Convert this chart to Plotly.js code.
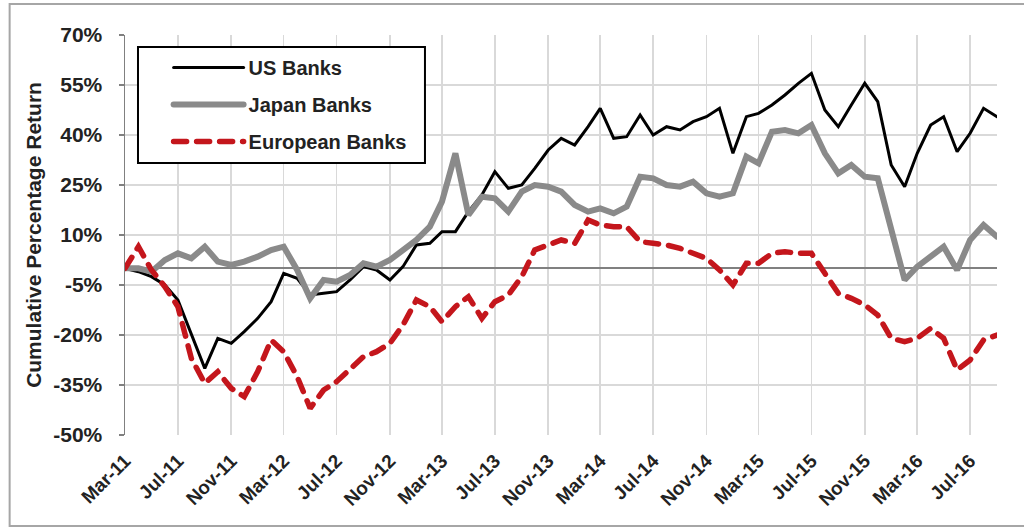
<!DOCTYPE html>
<html>
<head>
<meta charset="utf-8">
<script src="https://cdn.plot.ly/plotly-3.0.1.min.js"></script>
<style>
html,body{margin:0;padding:0;background:#fff;}
#chart{width:1024px;height:528px;}
.scatterlayer .js-line, .legendlines path { stroke-linecap: round; }
</style>
</head>
<body>
<div id="chart"></div>
<script>
const months = [
 '2011-03','2011-04','2011-05','2011-06','2011-07','2011-08','2011-09','2011-10','2011-11','2011-12',
 '2012-01','2012-02','2012-03','2012-04','2012-05','2012-06','2012-07','2012-08','2012-09','2012-10','2012-11','2012-12',
 '2013-01','2013-02','2013-03','2013-04','2013-05','2013-06','2013-07','2013-08','2013-09','2013-10','2013-11','2013-12',
 '2014-01','2014-02','2014-03','2014-04','2014-05','2014-06','2014-07','2014-08','2014-09','2014-10','2014-11','2014-12',
 '2015-01','2015-02','2015-03','2015-04','2015-05','2015-06','2015-07','2015-08','2015-09','2015-10','2015-11','2015-12',
 '2016-01','2016-02','2016-03','2016-04','2016-05','2016-06','2016-07','2016-08','2016-09'
];

const usBanks = [
 0, -1, -2.5, -5, -9.5, -19.5, -30, -21, -22.5, -19,
 -15, -10, -1.5, -3, -8, -7.5, -7, -3.5, 0.5, -0.5,
 -3.5, 0.5, 7, 7.5, 11, 11, 17, 22, 29, 24,
 25, 30, 35.5, 39, 37, 42.5, 48, 39, 39.5, 46,
 40, 42.5, 41.5, 44, 45.5, 48, 34.5, 45.5, 46.5, 49,
 52, 55.5, 58.5, 47.5, 42.5, 49, 55.5, 50, 31, 24.5,
 34.5, 43, 45.5, 35, 40.5, 48, 45.5
];

const japanBanks = [
 0, 0, -1, 2.5, 4.5, 3, 6.5, 2, 1, 2,
 3.5, 5.5, 6.5, -0.5, -9, -3.5, -4, -2, 1.5, 0.5,
 2.5, 5.5, 8.5, 12.5, 20, 34.5, 16, 21.5, 21, 17,
 23, 25, 24.5, 23, 19, 17, 18, 16.5, 18.5, 27.5,
 27, 25, 24.5, 26, 22.5, 21.5, 22.5, 33.5, 31.5, 41,
 41.5, 40.5, 43, 34.5, 28.5, 31, 27.5, 27, 12.5, -3.5,
 0.5, 3.5, 6.5, -0.5, 8.5, 13, 9.5
];

const europeanBanks = [
 0, 6.5, -0.5, -5.5, -11.5, -27, -34.5, -31, -36, -38.5,
 -31, -21.5, -25, -32.5, -42, -36.5, -34, -30, -26.5, -25,
 -22.5, -17, -9.5, -11.5, -16, -11.5, -8.5, -15, -10, -8,
 -2.5, 5.5, 7, 8.5, 7.5, 14.5, 13, 12.5, 12.5, 8,
 7.5, 7, 6, 4.5, 3, -0.5, -5, 1.5, 1.5, 4.5,
 5, 4.5, 4.5, -1.5, -7.5, -9, -11, -14, -21, -22,
 -21, -18, -21, -30.5, -27.5, -21.5, -20
];

const xTickVals = ['2011-03','2011-07','2011-11','2012-03','2012-07','2012-11','2013-03','2013-07','2013-11',
 '2014-03','2014-07','2014-11','2015-03','2015-07','2015-11','2016-03','2016-07'];
const xTickText = ['Mar-11','Jul-11','Nov-11','Mar-12','Jul-12','Nov-12','Mar-13','Jul-13','Nov-13',
 'Mar-14','Jul-14','Nov-14','Mar-15','Jul-15','Nov-15','Mar-16','Jul-16'];
const yTickVals = [-50, -35, -20, -5, 10, 25, 40, 55, 70];
const yTickText = ['-50%','-35%','-20%','-5%','10%','25%','40%','55%','70%'];

const FONT = 'Liberation Sans, Arial, sans-serif';
const TXT = '#222222';

const traces = [
 {x: months, y: usBanks, name: 'US Banks', type: 'scatter', mode: 'lines', legendgroup: 'a',
  line: {color: '#000000', width: 3}},
 {x: months, y: japanBanks, name: 'Japan Banks', type: 'scatter', mode: 'lines', legendgroup: 'b',
  line: {color: '#8a8a8a', width: 6}},
 {x: months, y: europeanBanks, name: 'European Banks', type: 'scatter', mode: 'lines', legendgroup: 'c',
  line: {color: '#c4161c', width: 5.5, dash: '13px,10px'}}
];

const layout = {
 width: 1024, height: 528,
 margin: {l: 125, r: 27, t: 35, b: 93},
 paper_bgcolor: '#ffffff', plot_bgcolor: '#ffffff',
 showlegend: true,
 legend: {
  x: 0.05, y: 0.9675, xanchor: 'left', yanchor: 'top',
  bgcolor: 'rgba(0,0,0,0)', borderwidth: 0,
  font: {family: FONT, size: 20, color: TXT, weight: 'bold'},
  itemwidth: 70, tracegroupgap: 8, traceorder: 'grouped'
 },
 xaxis: {
  type: 'date', range: ['2011-03-01', '2016-09-01'],
  tickvals: xTickVals, ticktext: xTickText, tickangle: -45,
  tickfont: {family: FONT, size: 19, color: TXT, weight: 'bold'},
  showgrid: true, gridcolor: '#d9d9d9', gridwidth: 1.5,
  zeroline: false, showline: false, ticks: '',
  ticklabelstandoff: 10
 },
 yaxis: {
  range: [-50, 70], tickvals: yTickVals, ticktext: yTickText,
  tickfont: {family: FONT, size: 21, color: TXT, weight: 'bold'},
  showgrid: true, gridcolor: '#d9d9d9', gridwidth: 1.5,
  zeroline: true, zerolinecolor: '#808080', zerolinewidth: 2,
  showline: true, linecolor: '#808080', linewidth: 1.5,
  ticks: 'outside', ticklen: 5, tickcolor: '#808080', tickwidth: 1.5,
  ticklabelstandoff: 12,
  title: {text: 'Cumulative Percentage Return', standoff: 6,
   font: {family: FONT, size: 21, color: TXT, weight: 'bold'}}
 },
 shapes: [
  {type: 'rect', xref: 'paper', yref: 'paper', x0: 0.0149, x1: 0.344, y0: 0.68, y1: 0.97,
   line: {color: '#000000', width: 2}, fillcolor: '#ffffff', layer: 'above'},
  {type: 'rect', xref: 'paper', yref: 'paper', x0: -0.1323, x1: 1.05, y0: -0.2275, y1: 1.0775,
   line: {color: '#a6a6a6', width: 2}, fillcolor: 'rgba(0,0,0,0)', layer: 'below'}
 ]
};

Plotly.newPlot('chart', traces, layout, {staticPlot: true, displayModeBar: false});
</script>
</body>
</html>
